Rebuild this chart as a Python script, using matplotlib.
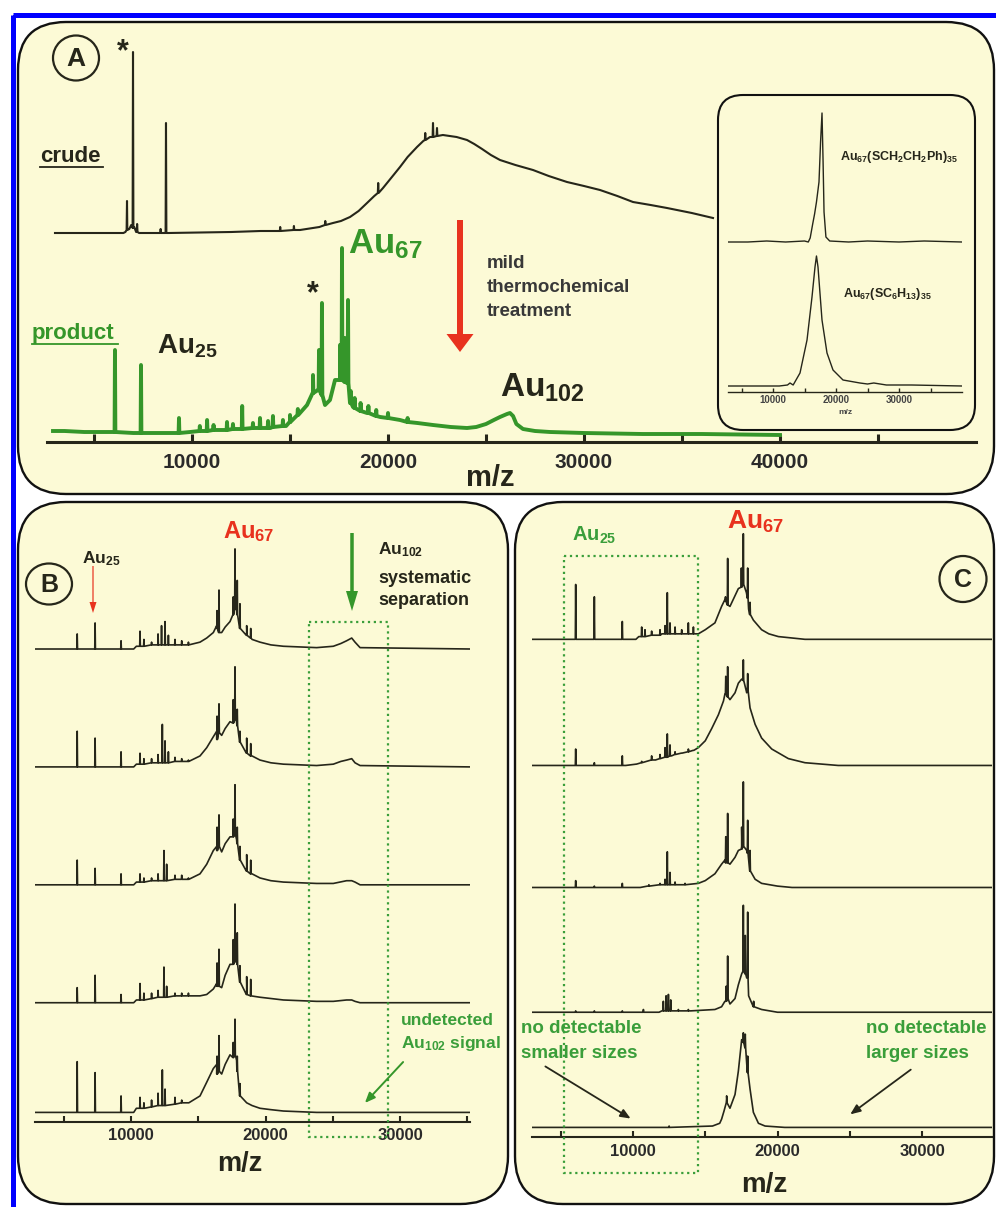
import numpy as np
import matplotlib
matplotlib.use('Agg')
import matplotlib.pyplot as plt
from matplotlib.patches import FancyBboxPatch, Ellipse, Rectangle, FancyArrow

plt.rcParams['font.family'] = ['Liberation Sans', 'DejaVu Sans']
plt.rcParams['font.weight'] = 'bold'
plt.rcParams['mathtext.fontset'] = 'custom'
plt.rcParams['mathtext.rm'] = 'Liberation Sans:bold'
plt.rcParams['mathtext.bf'] = 'Liberation Sans:bold'
plt.rcParams['mathtext.it'] = 'Liberation Sans:bold'
plt.rcParams['mathtext.default'] = 'rm'

# ---- data: (m/z, intensity a.u.) points of each trace, spikes as (m/z, base, top)
crude_env = [(3010, 0), (6500, 0), (6600, 1), (6700, 3), (6800, 4), (6900, 8), (7050, 6), (7150, 1),
             (7300, 0), (8800, 0), (12000, 1), (13500, 2), (15510, 3), (16500, 6), (17194, 10),
             (17600, 12), (18061, 16), (18500, 22), (18929, 30), (19300, 37), (19745, 45), (20200, 56),
             (20612, 66), (21000, 76), (21480, 86), (21800, 92), (22143, 96), (22800, 98),
             (23500, 96), (24031, 93), (24400, 89), (24800, 84), (25250, 78), (25714, 73), (26500, 68),
             (27398, 63), (28200, 57), (29133, 51), (30000, 47), (30816, 43), (31700, 37), (32500, 31),
             (33400, 28), (34235, 25), (35500, 20), (36582, 15)]
crude_spk = [(6684, 3, 32), (6990, 5, 181), (7200, 1, 9), (8400, 0, 4), (8673, 0, 110), (14500, 2, 6),
             (15200, 3, 7), (16800, 8, 12), (19500, 40, 50), (21900, 93, 100), (22296, 96, 110),
             (22500, 97, 105)]

prod_env = [(2908, 2), (3500, 2), (4500, 1), (5500, 1), (7000, 0), (9000, 0), (9900, 1), (10500, 2),
            (11500, 3), (12500, 4), (13500, 5), (14000, 5), (14800, 7), (15000, 11), (15510, 20),
            (15870, 28), (16173, 40), (16428, 43), (16786, 28), (17040, 33), (17296, 53), (17550, 53),
            (17908, 50), (18061, 30), (18214, 26), (18600, 22), (18929, 20), (19600, 16), (20612, 13),
            (21500, 10), (22296, 8), (23200, 6), (24031, 5), (24500, 6), (25000, 9), (25400, 13),
            (25714, 16), (26071, 19), (26224, 20), (26380, 17), (26550, 9), (26888, 4), (27500, 2),
            (28265, 1), (30000, 0), (33000, -1), (36000, -1), (40000, -2)]
prod_spk = [(6070, 1, 83), (7398, 0, 68), (9336, 0, 15), (10400, 2, 7), (10770, 2, 13), (11100, 3, 8),
            (11786, 3, 11), (12090, 4, 9), (12560, 4, 27), (13110, 5, 10), (13470, 5, 15), (13880, 5, 12),
            (14130, 6, 17), (14640, 7, 13), (15000, 11, 18), (15400, 18, 24), (16173, 40, 58),
            (16480, 43, 83), (16630, 38, 130), (17550, 53, 88), (17653, 53, 185), (17800, 51, 95),
            (17960, 50, 133), (18100, 30, 42), (18300, 25, 35), (18600, 22, 30), (19000, 20, 27),
            (19400, 17, 23), (20000, 15, 20), (21000, 11, 15)]

inset_top = [(2857, 0), (6000, 0), (9000, 1), (12000, 0), (15000, 1), (15600, 0), (15900, 4), (16300, 18),
             (16600, 28), (16900, 40), (17300, 60), (17550, 100), (17780, 129), (17950, 80), (18100, 30),
             (18400, 5), (19000, 1), (22000, 0), (25000, 1), (30000, 0), (34000, 1), (40000, 0)]
inset_bot = [(2857, 0), (11000, 0), (12300, 1), (12698, 3), (13200, 1), (14286, 13), (15400, 46),
             (16190, 89), (16667, 119), (16900, 130), (17143, 119), (17778, 66), (18571, 33), (19524, 16),
             (21111, 6), (23800, 3), (25000, 2), (26000, 3), (28000, 1), (32000, 1), (40000, 0)]

B1_env = [(2862, 0), (10200, 0), (10400, 2), (12000, 3), (14300, 3), (15130, 5), (15628, 8), (16120, 12),
          (16370, 17), (16740, 12), (17000, 16), (17360, 20), (17610, 30), (17850, 28), (18100, 17),
          (18600, 10), (19000, 7), (19590, 5), (20400, 3), (21330, 2), (23800, 1), (25040, 2), (25600, 4),
          (26030, 6), (26410, 8), (26655, 5), (27030, 1), (35200, 0)]
B1_spk = [(6000, 0, 11), (7330, 0, 19), (9260, 0, 6), (10670, 2, 13), (10960, 2, 7), (11530, 3, 5),
          (12010, 3, 11), (12270, 3, 17), (12530, 3, 20), (12780, 3, 10), (13270, 3, 7), (13770, 3, 6),
          (14270, 3, 5), (16400, 15, 28), (16543, 12, 43), (17600, 25, 38), (17732, 30, 73), (17900, 25, 50),
          (18100, 15, 33), (18600, 10, 17), (18900, 8, 15)]
B2_env = [(2862, 0), (10200, 0), (10400, 2), (12000, 3), (14300, 4), (15130, 8), (15628, 14), (16120, 22),
          (16370, 26), (16740, 23), (17000, 28), (17360, 33), (17610, 35), (17850, 33), (18100, 20),
          (18600, 11), (19000, 8), (19590, 5), (20400, 3), (21330, 2), (23800, 1), (25040, 2), (25600, 4),
          (26030, 5), (26410, 6), (26655, 3), (27030, 1), (35200, 0)]
B2_spk = [(6000, 0, 26), (7330, 0, 21), (9260, 0, 11), (10670, 2, 10), (10960, 2, 6), (11530, 3, 6),
          (12010, 3, 9), (12330, 3, 31), (12530, 3, 19), (12780, 3, 11), (13270, 4, 7), (13770, 4, 6),
          (14270, 4, 5), (16400, 20, 37), (16543, 25, 46), (17600, 32, 49), (17732, 35, 73), (17900, 30, 42),
          (18100, 18, 26), (18600, 10, 21), (18900, 8, 17)]
B3_env = [(2862, 0), (10200, 0), (10400, 2), (12000, 3), (14300, 4), (15130, 8), (15628, 15), (16120, 25),
          (16370, 28), (16740, 24), (17000, 30), (17360, 35), (17610, 37), (17850, 33), (18100, 20),
          (18600, 11), (19000, 8), (19590, 5), (20400, 3), (21330, 2), (23800, 1), (25040, 1), (26030, 3),
          (26410, 3), (26655, 2), (27030, 0), (35200, 0)]
B3_spk = [(6000, 0, 18), (7330, 0, 12), (9260, 0, 8), (10670, 2, 8), (10960, 2, 5), (11530, 3, 5),
          (12010, 3, 8), (12450, 3, 25), (12650, 3, 15), (13270, 4, 7), (13770, 4, 7), (14270, 4, 5),
          (16400, 25, 42), (16543, 28, 51), (17600, 35, 48), (17732, 37, 73), (17900, 30, 42),
          (18100, 18, 28), (18600, 10, 22), (18900, 8, 18)]
B4_env = [(2862, 0), (10200, 0), (10400, 2), (12000, 4), (14300, 5), (15130, 5), (15628, 6), (16120, 10),
          (16370, 14), (16740, 11), (17000, 20), (17360, 28), (17610, 31), (17850, 30), (18100, 15),
          (18600, 7), (19590, 4), (21330, 2), (23800, 1), (25040, 1), (26030, 2), (26410, 2), (26655, 1),
          (27030, 0), (35200, 0)]
B4_spk = [(6000, 0, 11), (7330, 0, 20), (9260, 0, 6), (10670, 2, 14), (10960, 2, 7), (11530, 3, 7),
          (12010, 4, 9), (12450, 4, 26), (12650, 4, 12), (13270, 5, 7), (13770, 5, 7), (14270, 5, 7),
          (16400, 12, 29), (16543, 12, 39), (17600, 28, 46), (17732, 30, 72), (17900, 28, 51),
          (18100, 15, 27), (18600, 6, 19), (18900, 5, 17)]
B5_env = [(2862, 0), (10200, 0), (10400, 3), (12000, 5), (14300, 7), (15130, 12), (15628, 22), (16120, 32),
          (16370, 35), (16740, 28), (17000, 35), (17360, 42), (17610, 42), (17850, 38), (18100, 14),
          (18600, 7), (19000, 5), (19590, 3), (20400, 2), (21330, 1), (23800, 0), (35200, 0)]
B5_spk = [(6000, 0, 37), (7330, 0, 29), (9260, 0, 12), (10670, 3, 11), (10960, 3, 7), (11530, 4, 9),
          (12010, 5, 14), (12330, 5, 31), (12530, 5, 17), (13270, 6, 11), (13770, 7, 9), (14270, 7, 7),
          (16400, 28, 41), (16543, 30, 56), (17600, 40, 51), (17732, 42, 68), (17900, 30, 41), (18100, 12, 21)]

C1_env = [(3010, 0), (10200, 0), (10400, 2), (12000, 4), (14520, 4), (15000, 7), (15670, 12), (16130, 24),
          (16360, 29), (16710, 24), (17290, 37), (17600, 40), (17850, 34), (18000, 22), (18330, 14),
          (18900, 7), (19400, 4), (20060, 2), (21900, 0), (35000, 0)]
C1_spk = [(6033, 0, 40), (7325, 0, 31), (9260, 0, 13), (10600, 2, 9), (10830, 2, 7), (11290, 3, 6),
          (11870, 3, 7), (12220, 4, 10), (12375, 4, 34), (12560, 4, 12), (12910, 4, 9), (13370, 4, 7),
          (13830, 4, 12), (14180, 4, 9), (16400, 28, 31), (16550, 25, 59), (17500, 38, 52), (17636, 40, 77),
          (17936, 30, 52), (18100, 18, 27)]
C2_env = [(3010, 0), (9500, 0), (10250, 1), (11560, 4), (12670, 7), (13830, 10), (14520, 13), (15000, 18),
          (15450, 27), (15910, 37), (16260, 47), (16360, 52), (16710, 48), (17060, 53), (17290, 60),
          (17520, 63), (17870, 53), (18100, 42), (18450, 30), (18900, 20), (19600, 12), (20750, 5),
          (21900, 2), (24200, 0), (35000, 0)]
C2_spk = [(6033, 0, 12), (7325, 0, 2), (9260, 0, 7), (10600, 2, 3), (11290, 4, 7), (11870, 5, 8),
          (12220, 6, 13), (12375, 6, 23), (12560, 7, 15), (12910, 8, 10), (13370, 9, 9), (13830, 10, 12),
          (14180, 11, 11), (16420, 52, 65), (16550, 50, 72), (17636, 62, 77), (17936, 55, 67)]
C3_env = [(3010, 0), (10500, 0), (11000, 1), (12000, 2), (13500, 2), (14520, 3), (15000, 5), (15670, 10),
          (16130, 17), (16360, 20), (16710, 17), (17060, 22), (17290, 27), (17520, 30), (17870, 27),
          (18100, 12), (18450, 6), (18900, 3), (20000, 1), (21000, 0), (35000, 0)]
C3_spk = [(6033, 0, 5), (7325, 0, 1), (9260, 0, 3), (11100, 1, 2), (11870, 2, 3), (12220, 2, 6),
          (12375, 2, 26), (12560, 2, 11), (12910, 2, 4), (13600, 2, 3), (16420, 18, 37), (16550, 18, 54),
          (17520, 28, 44), (17636, 30, 77), (17936, 25, 49), (18100, 12, 27)]
C4_env = [(3010, 0), (11800, 0), (12000, 1), (12800, 1), (14000, 1), (15670, 2), (16130, 4), (16360, 8),
          (16710, 6), (17060, 10), (17290, 20), (17520, 28), (17870, 25), (18000, 12), (18330, 5),
          (18900, 2), (20000, 0), (35000, 0)]
C4_spk = [(6033, 0, 1), (7325, 0, 1), (9260, 0, 1), (10720, 0, 2), (12100, 1, 8), (12290, 1, 12),
          (12450, 1, 13), (12610, 1, 9), (13140, 1, 2), (13830, 1, 2), (16450, 8, 19), (16550, 10, 41),
          (17636, 30, 78), (17770, 28, 56), (17936, 25, 73), (18350, 4, 8)]
C5_env = [(3010, 0), (12000, 0), (15500, 1), (16000, 3), (16130, 6), (16300, 12), (16480, 21), (16710, 14),
          (17060, 24), (17290, 41), (17520, 64), (17636, 68), (17750, 64), (17936, 51), (18100, 28),
          (18330, 11), (18680, 3), (19140, 1), (20500, 0), (35000, 0)]
C5_spk = [(12500, 0, 1), (16480, 18, 23), (17636, 62, 69), (17770, 58, 68), (17936, 40, 52)]

ticks_A = [5000, 10000, 15000, 20000, 25000, 30000, 35000, 40000, 45000]
ticks_B = [5000, 10000, 15000, 20000, 25000, 30000, 35000]
ticks_C = [5000, 10000, 15000, 20000, 25000, 30000]
ticks_inset = [5000, 10000, 15000, 20000, 25000, 30000, 35000]
tick_labels = {10000: '10000', 20000: '20000', 30000: '30000', 40000: '40000'}

# ---- colours
YEL = '#fcfad6'
INK = '#26261a'
GREEN = '#35962a'
GREEN_T = '#3a9e3a'
RED = '#e8321e'

W, H = 996, 1207
fig = plt.figure(figsize=(W / 100, H / 100), dpi=100)


def px_axes(x0, y0, x1, y1, z):
    ax = fig.add_axes([x0 / W, 1 - y1 / H, (x1 - x0) / W, (y1 - y0) / H], zorder=z)
    ax.patch.set_alpha(0)
    return ax


def spec_axes(x0, y0, x1, y1, xlim, ticks, z=1, lw=1.5, fs=12, pad=3, tl=5, scale=1.0):
    ax = px_axes(x0, y0, x1, y1, z)
    ax.set_xlim(xlim)
    ax.set_ylim(0, (y1 - y0) / scale)
    for s in ['left', 'right', 'top']:
        ax.spines[s].set_visible(False)
    ax.spines['bottom'].set_linewidth(lw)
    ax.spines['bottom'].set_color(INK)
    ax.set_yticks([])
    ax.set_xticks(ticks)
    ax.set_xticklabels([tick_labels.get(t, '') for t in ticks])
    ax.tick_params(axis='x', direction='in', length=tl, width=lw, color=INK, pad=pad,
                   labelsize=fs, labelcolor='#2a2a2a')
    return ax


def trace_xy(env, spikes, w):
    pts = list(env)
    for m, b, t in spikes:
        pts += [(m - w, b), (m, t), (m + w, b)]
    pts.sort()
    a = np.array(pts, dtype=float)
    return a[:, 0], a[:, 1]


# background: blue frame and rounded panels
bg = px_axes(0, 0, W, H, 0)
bg.set_xlim(0, W)
bg.set_ylim(H, 0)
bg.axis('off')
bg.add_patch(Rectangle((12.5, 14.5), 1100, 1300, fill=False, ec='#0000ff', lw=3.6))
for x0, y0, x1, y1 in [(18, 22, 994, 494), (18, 502, 508, 1204), (515, 502, 994, 1204)]:
    bg.add_patch(FancyBboxPatch((x0, y0), x1 - x0, y1 - y0, boxstyle='round,pad=0,rounding_size=48',
                                fc=YEL, ec='#111111', lw=1.7))

# ---- panel A
axA = spec_axes(47, 40, 976, 442, (2602, 50000), ticks_A, lw=2.2, fs=15, pad=8, tl=6)
x, y = trace_xy(crude_env, crude_spk, 20)
axA.plot(x, y + 209, color=INK, lw=1.5)
x, y = trace_xy(prod_env, prod_spk, 20)
axA.plot(x, y + 9, color=GREEN, lw=2.8, solid_joinstyle='round')

# ---- panel B (stacked spectra)
axB = spec_axes(35, 505, 470, 1122, (2862, 35204), ticks_B, lw=1.5, fs=12, pad=4, tl=4, scale=1.371)
for (env, spk), off in zip([(B1_env, B1_spk), (B2_env, B2_spk), (B3_env, B3_spk),
                            (B4_env, B4_spk), (B5_env, B5_spk)], [345, 259, 173, 87, 7]):
    x, y = trace_xy(env, spk, 25)
    axB.plot(x, y + off, color=INK, lw=1.2)

# ---- panel C (stacked spectra)
axC = spec_axes(532, 505, 992, 1137, (3010, 34844), ticks_C, lw=1.5, fs=12, pad=5, tl=4, scale=1.371)
for (env, spk), off in zip([(C1_env, C1_spk), (C2_env, C2_spk), (C3_env, C3_spk),
                            (C4_env, C4_spk), (C5_env, C5_spk)], [363, 271, 182, 91, 7]):
    x, y = trace_xy(env, spk, 25)
    axC.plot(x, y + off, color=INK, lw=1.2)

# ---- overlay: annotations
ov = px_axes(0, 0, W, H, 2)
ov.set_xlim(0, W)
ov.set_ylim(H, 0)
ov.axis('off')

# inset frame
ov.add_patch(FancyBboxPatch((718, 95), 257, 335, boxstyle='round,pad=0,rounding_size=25',
                            fc=YEL, ec='#111111', lw=1.5))

# panel A labels
ov.add_patch(Ellipse((76, 58), 46, 45, fill=False, ec=INK, lw=1.6))
ov.text(76, 59, 'A', fontsize=19, ha='center', va='center', color=INK)
ov.text(123, 60, '*', fontsize=22, ha='center', va='baseline', color=INK)
ov.text(313, 302, '*', fontsize=22, ha='center', va='baseline', color=INK)
ov.text(40, 162, 'crude', fontsize=16, va='baseline', color=INK)
ov.plot([40, 103], [167, 167], color=INK, lw=1.3)
ov.text(32, 339, 'product', fontsize=16, va='baseline', color=GREEN)
ov.plot([32, 118], [344, 344], color=GREEN, lw=1.3)
ov.text(157, 353, r'$\mathrm{Au}_{25}$', fontsize=20, va='baseline', color=INK)
ov.text(348, 253, r'$\mathrm{Au}_{67}$', fontsize=25, va='baseline', color=GREEN)
ov.text(500, 397, r'$\mathrm{Au}_{102}$', fontsize=24, va='baseline', color=INK)
ov.add_patch(FancyArrow(460, 220, 0, 132, width=6, head_width=27, head_length=18,
                        length_includes_head=True, color=RED, lw=0))
for txt, yb in [('mild', 268), ('thermochemical', 292), ('treatment', 316)]:
    ov.text(487, yb, txt, fontsize=13.5, va='baseline', color='#383838')
ov.text(490, 478, 'm/z', fontsize=21, ha='center', va='center', color=INK)

# inset labels
ov.text(840, 160, r'$\mathrm{Au}_{67}\mathrm{(SCH}_{2}\mathrm{CH}_{2}\mathrm{Ph)}_{35}$',
        fontsize=9, va='baseline', color=INK)
ov.text(843, 297, r'$\mathrm{Au}_{67}\mathrm{(SC}_{6}\mathrm{H}_{13}\mathrm{)}_{35}$',
        fontsize=9, va='baseline', color=INK)
ov.text(845, 413, 'm/z', fontsize=6, ha='center', va='center', color='#444444')

# panel B labels
ov.add_patch(Ellipse((49, 584), 46, 41, fill=False, ec=INK, lw=1.6))
ov.text(49, 585, 'B', fontsize=18, ha='center', va='center', color=INK)
ov.text(82, 563, r'$\mathrm{Au}_{25}$', fontsize=12.5, va='baseline', color=INK)
ov.add_patch(FancyArrow(93, 566, 0, 47, width=1.2, head_width=7, head_length=11,
                        length_includes_head=True, color=RED, lw=0))
ov.text(223, 538, r'$\mathrm{Au}_{67}$', fontsize=17, va='baseline', color=RED)
ov.add_patch(FancyArrow(352, 533, 0, 78, width=3.5, head_width=12, head_length=20,
                        length_includes_head=True, color=GREEN, lw=0))
ov.text(378, 554, r'$\mathrm{Au}_{102}$', fontsize=12.5, va='baseline', color=INK)
ov.text(378, 583, 'systematic', fontsize=13, va='baseline', color=INK)
ov.text(378, 605, 'separation', fontsize=13, va='baseline', color=INK)
ov.add_patch(Rectangle((309, 622), 79, 515, fill=False, ec=GREEN_T, lw=1.6, ls=':'))
ov.text(401, 1025, 'undetected', fontsize=12.5, va='baseline', color=GREEN_T)
ov.text(401, 1048, r'$\mathrm{Au}_{102}$ signal', fontsize=12.5, va='baseline', color=GREEN_T)
ov.annotate('', xy=(363, 1105), xytext=(405, 1060),
            arrowprops=dict(arrowstyle='-|>,head_width=0.25,head_length=0.6', color=GREEN, lw=1.4))
ov.text(240, 1164, 'm/z', fontsize=19.5, ha='center', va='center', color=INK)

# panel C labels
ov.text(572, 541, r'$\mathrm{Au}_{25}$', fontsize=14.5, va='baseline', color=GREEN_T)
ov.text(727, 529, r'$\mathrm{Au}_{67}$', fontsize=19, va='baseline', color=RED)
ov.add_patch(Ellipse((963, 579), 47, 46, fill=False, ec=INK, lw=1.6))
ov.text(963, 580, 'C', fontsize=18, ha='center', va='center', color=INK)
ov.add_patch(Rectangle((564, 556), 134, 617, fill=False, ec=GREEN_T, lw=1.6, ls=':'))
for xl, lines in [(521, ('no detectable', 'smaller sizes')), (866, ('no detectable', 'larger sizes'))]:
    ov.text(xl, 1033, lines[0], fontsize=13.5, va='baseline', color=GREEN_T)
    ov.text(xl, 1058, lines[1], fontsize=13.5, va='baseline', color=GREEN_T)
ov.annotate('', xy=(633, 1120), xytext=(543, 1065),
            arrowprops=dict(arrowstyle='-|>,head_width=0.25,head_length=0.6', color=INK, lw=1.3))
ov.annotate('', xy=(848, 1116), xytext=(913, 1068),
            arrowprops=dict(arrowstyle='-|>,head_width=0.25,head_length=0.6', color=INK, lw=1.3))
ov.text(764, 1185, 'm/z', fontsize=20, ha='center', va='center', color=INK)

# ---- inset spectra
axI = spec_axes(728, 100, 962, 392, (2857, 40000), ticks_inset, z=3, lw=1.0, fs=7, pad=2, tl=3)
for t in axI.get_xticklabels():
    t.set_color('#444444')
x, y = trace_xy(inset_top, [], 1)
axI.plot(x, y + 150, color=INK, lw=1.0)
x, y = trace_xy(inset_bot, [], 1)
axI.plot(x, y + 6, color=INK, lw=1.0)

fig.savefig('out.png', dpi=100)
